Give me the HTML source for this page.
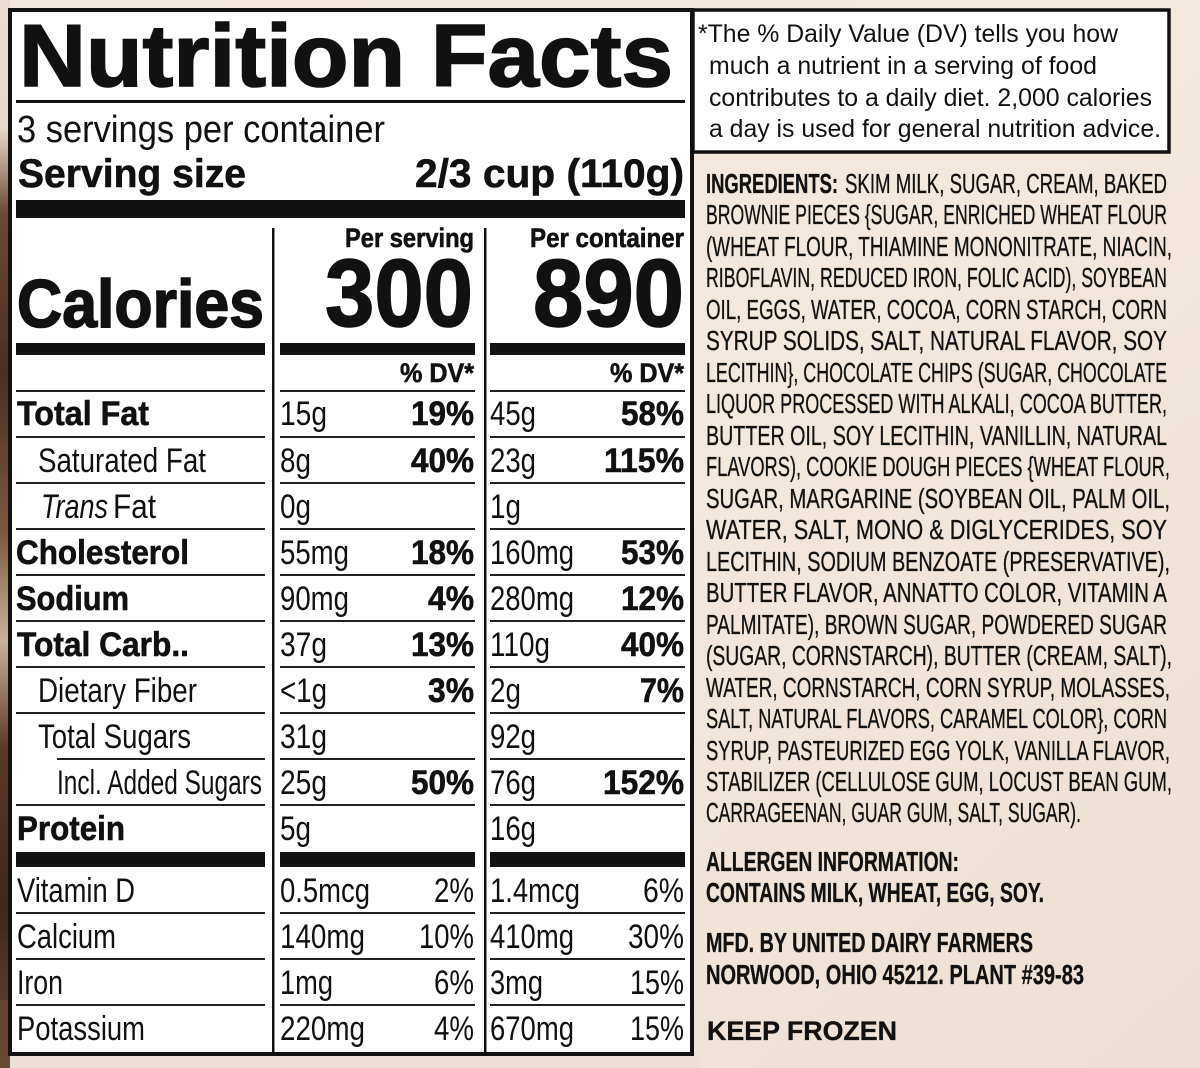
<!DOCTYPE html>
<html><head><meta charset="utf-8"><style>
html,body{margin:0;padding:0;background:#efe3d8;}
svg{display:block}
text{font-family:"Liberation Sans",Arial,sans-serif;fill:#111}
.b{font-weight:bold}
.h{stroke:#111;stroke-width:1.6}
.m{stroke:#111;stroke-width:0.6}
</style></head><body>
<svg width="1200" height="1068" viewBox="0 0 1200 1068" xmlns="http://www.w3.org/2000/svg">
<defs>
<linearGradient id="bg" x1="0" y1="0" x2="1" y2="1">
<stop offset="0" stop-color="#f1e6dc"/><stop offset="0.5" stop-color="#f3e8de"/><stop offset="1" stop-color="#ecdfd3"/>
</linearGradient>
<linearGradient id="br" x1="0" y1="0" x2="0" y2="1">
<stop offset="0" stop-color="#e9dccf"/><stop offset="0.12" stop-color="#e6d8ca"/><stop offset="0.2" stop-color="#6b4a35"/><stop offset="0.35" stop-color="#4a3022"/><stop offset="0.5" stop-color="#7a5a42"/><stop offset="0.6" stop-color="#c9b39a"/><stop offset="0.7" stop-color="#5a3a28"/><stop offset="0.85" stop-color="#3e281c"/><stop offset="1" stop-color="#6a4a36"/>
</linearGradient>
</defs>
<rect width="1200" height="1068" fill="url(#bg)"/>
<rect x="0" y="0" width="10" height="1068" fill="url(#br)"/>
<rect x="0" y="1000" width="40" height="68" fill="#6a4a36" opacity="0.6"/>
<rect x="10" y="1056" width="690" height="12" fill="#ecdfd3"/>

<rect x="10" y="10" width="682" height="1044" fill="#fff" stroke="#111" stroke-width="4"/>

<text class="b h" x="19" y="86" font-size="88" stroke-width="2.2" textLength="654" lengthAdjust="spacingAndGlyphs">Nutrition Facts</text>
<rect x="16" y="100" width="669" height="3" fill="#111"/>
<text x="17" y="142" font-size="38" textLength="368" lengthAdjust="spacingAndGlyphs">3 servings per container</text>
<text class="b m" x="18" y="187" font-size="40" textLength="228" lengthAdjust="spacingAndGlyphs">Serving size</text>
<text class="b m" x="415" y="187" font-size="40" textLength="269" lengthAdjust="spacingAndGlyphs">2/3 cup (110g)</text>
<rect x="16" y="200" width="669" height="18" fill="#111"/>

<rect x="272" y="228" width="2.5" height="826" fill="#111"/>
<rect x="484" y="228" width="2.5" height="826" fill="#111"/>

<text class="b m" x="474" y="247" font-size="27" text-anchor="end" textLength="129" lengthAdjust="spacingAndGlyphs">Per serving</text>
<text class="b m" x="684" y="247" font-size="27" text-anchor="end" textLength="154" lengthAdjust="spacingAndGlyphs">Per container</text>
<text class="b h" x="17" y="327" font-size="68" textLength="247" lengthAdjust="spacingAndGlyphs">Calories</text>
<text class="b h" x="473" y="326" font-size="96" text-anchor="end" textLength="148" lengthAdjust="spacingAndGlyphs">300</text>
<text class="b h" x="684" y="326" font-size="96" text-anchor="end" textLength="151" lengthAdjust="spacingAndGlyphs">890</text>

<rect x="16" y="343" width="249" height="12" fill="#111"/>
<rect x="280" y="343" width="195" height="12" fill="#111"/>
<rect x="490" y="343" width="195" height="12" fill="#111"/>
<text class="b m" x="474" y="382" font-size="27" text-anchor="end" textLength="74" lengthAdjust="spacingAndGlyphs">% DV*</text>
<text class="b m" x="684" y="382" font-size="27" text-anchor="end" textLength="74" lengthAdjust="spacingAndGlyphs">% DV*</text>

<g fill="#222">
<rect x="16" y="390" width="249" height="2"/><rect x="280" y="390" width="195" height="2"/><rect x="490" y="390" width="195" height="2"/>
<rect x="16" y="436" width="249" height="2"/><rect x="280" y="436" width="195" height="2"/><rect x="490" y="436" width="195" height="2"/>
<rect x="16" y="482" width="249" height="2"/><rect x="280" y="482" width="195" height="2"/><rect x="490" y="482" width="195" height="2"/>
<rect x="16" y="528" width="249" height="2"/><rect x="280" y="528" width="195" height="2"/><rect x="490" y="528" width="195" height="2"/>
<rect x="16" y="574" width="249" height="2"/><rect x="280" y="574" width="195" height="2"/><rect x="490" y="574" width="195" height="2"/>
<rect x="16" y="620" width="249" height="2"/><rect x="280" y="620" width="195" height="2"/><rect x="490" y="620" width="195" height="2"/>
<rect x="16" y="666" width="249" height="2"/><rect x="280" y="666" width="195" height="2"/><rect x="490" y="666" width="195" height="2"/>
<rect x="16" y="712" width="249" height="2"/><rect x="280" y="712" width="195" height="2"/><rect x="490" y="712" width="195" height="2"/>
<rect x="57" y="758" width="208" height="2"/><rect x="280" y="758" width="195" height="2"/><rect x="490" y="758" width="195" height="2"/>
<rect x="16" y="804" width="249" height="2"/><rect x="280" y="804" width="195" height="2"/><rect x="490" y="804" width="195" height="2"/>
<rect x="16" y="912" width="249" height="2"/><rect x="280" y="912" width="195" height="2"/><rect x="490" y="912" width="195" height="2"/>
<rect x="16" y="958" width="249" height="2"/><rect x="280" y="958" width="195" height="2"/><rect x="490" y="958" width="195" height="2"/>
<rect x="16" y="1004" width="249" height="2"/><rect x="280" y="1004" width="195" height="2"/><rect x="490" y="1004" width="195" height="2"/>
</g>
<rect x="16" y="852" width="249" height="15" fill="#111"/>
<rect x="280" y="852" width="195" height="15" fill="#111"/>
<rect x="490" y="852" width="195" height="15" fill="#111"/>

<g font-size="34">
<text class="b m" x="17" y="425" textLength="132" lengthAdjust="spacingAndGlyphs">Total Fat</text>
<text x="38" y="472" textLength="168" lengthAdjust="spacingAndGlyphs">Saturated Fat</text>
<text x="41" y="518" font-style="italic" textLength="67" lengthAdjust="spacingAndGlyphs">Trans</text>
<text x="113" y="518" textLength="43" lengthAdjust="spacingAndGlyphs">Fat</text>
<text class="b m" x="16" y="564" textLength="173" lengthAdjust="spacingAndGlyphs">Cholesterol</text>
<text class="b m" x="16" y="610" textLength="113" lengthAdjust="spacingAndGlyphs">Sodium</text>
<text class="b m" x="17" y="656" textLength="172" lengthAdjust="spacingAndGlyphs">Total Carb..</text>
<text x="38" y="702" textLength="159" lengthAdjust="spacingAndGlyphs">Dietary Fiber</text>
<text x="38" y="748" textLength="153" lengthAdjust="spacingAndGlyphs">Total Sugars</text>
<text x="57" y="794" textLength="205" lengthAdjust="spacingAndGlyphs">Incl. Added Sugars</text>
<text class="b m" x="17" y="840" textLength="108" lengthAdjust="spacingAndGlyphs">Protein</text>
<text x="17" y="902" textLength="118" lengthAdjust="spacingAndGlyphs">Vitamin D</text>
<text x="17" y="948" textLength="99" lengthAdjust="spacingAndGlyphs">Calcium</text>
<text x="17" y="994" textLength="46" lengthAdjust="spacingAndGlyphs">Iron</text>
<text x="17" y="1040" textLength="128" lengthAdjust="spacingAndGlyphs">Potassium</text>

<text x="280" y="425" textLength="47" lengthAdjust="spacingAndGlyphs">15g</text>
<text x="280" y="472" textLength="31" lengthAdjust="spacingAndGlyphs">8g</text>
<text x="280" y="518" textLength="31" lengthAdjust="spacingAndGlyphs">0g</text>
<text x="280" y="564" textLength="69" lengthAdjust="spacingAndGlyphs">55mg</text>
<text x="280" y="610" textLength="69" lengthAdjust="spacingAndGlyphs">90mg</text>
<text x="280" y="656" textLength="47" lengthAdjust="spacingAndGlyphs">37g</text>
<text x="280" y="702" textLength="47" lengthAdjust="spacingAndGlyphs">&lt;1g</text>
<text x="280" y="748" textLength="47" lengthAdjust="spacingAndGlyphs">31g</text>
<text x="280" y="794" textLength="47" lengthAdjust="spacingAndGlyphs">25g</text>
<text x="280" y="840" textLength="31" lengthAdjust="spacingAndGlyphs">5g</text>
<text x="280" y="902" textLength="90" lengthAdjust="spacingAndGlyphs">0.5mcg</text>
<text x="280" y="948" textLength="85" lengthAdjust="spacingAndGlyphs">140mg</text>
<text x="280" y="994" textLength="53" lengthAdjust="spacingAndGlyphs">1mg</text>
<text x="280" y="1040" textLength="85" lengthAdjust="spacingAndGlyphs">220mg</text>

<g text-anchor="end">
<text class="b m" x="474" y="425" textLength="63" lengthAdjust="spacingAndGlyphs">19%</text>
<text class="b m" x="474" y="472" textLength="63" lengthAdjust="spacingAndGlyphs">40%</text>
<text class="b m" x="474" y="564" textLength="63" lengthAdjust="spacingAndGlyphs">18%</text>
<text class="b m" x="474" y="610" textLength="46" lengthAdjust="spacingAndGlyphs">4%</text>
<text class="b m" x="474" y="656" textLength="63" lengthAdjust="spacingAndGlyphs">13%</text>
<text class="b m" x="474" y="702" textLength="46" lengthAdjust="spacingAndGlyphs">3%</text>
<text class="b m" x="474" y="794" textLength="63" lengthAdjust="spacingAndGlyphs">50%</text>
<text x="474" y="902" textLength="40" lengthAdjust="spacingAndGlyphs">2%</text>
<text x="474" y="948" textLength="55" lengthAdjust="spacingAndGlyphs">10%</text>
<text x="474" y="994" textLength="40" lengthAdjust="spacingAndGlyphs">6%</text>
<text x="474" y="1040" textLength="40" lengthAdjust="spacingAndGlyphs">4%</text>
</g>

<text x="490" y="425" textLength="46" lengthAdjust="spacingAndGlyphs">45g</text>
<text x="490" y="472" textLength="46" lengthAdjust="spacingAndGlyphs">23g</text>
<text x="490" y="518" textLength="31" lengthAdjust="spacingAndGlyphs">1g</text>
<text x="490" y="564" textLength="84" lengthAdjust="spacingAndGlyphs">160mg</text>
<text x="490" y="610" textLength="84" lengthAdjust="spacingAndGlyphs">280mg</text>
<text x="490" y="656" textLength="60" lengthAdjust="spacingAndGlyphs">110g</text>
<text x="490" y="702" textLength="31" lengthAdjust="spacingAndGlyphs">2g</text>
<text x="490" y="748" textLength="46" lengthAdjust="spacingAndGlyphs">92g</text>
<text x="490" y="794" textLength="46" lengthAdjust="spacingAndGlyphs">76g</text>
<text x="490" y="840" textLength="46" lengthAdjust="spacingAndGlyphs">16g</text>
<text x="490" y="902" textLength="90" lengthAdjust="spacingAndGlyphs">1.4mcg</text>
<text x="490" y="948" textLength="84" lengthAdjust="spacingAndGlyphs">410mg</text>
<text x="490" y="994" textLength="53" lengthAdjust="spacingAndGlyphs">3mg</text>
<text x="490" y="1040" textLength="84" lengthAdjust="spacingAndGlyphs">670mg</text>

<g text-anchor="end">
<text class="b m" x="684" y="425" textLength="63" lengthAdjust="spacingAndGlyphs">58%</text>
<text class="b m" x="684" y="472" textLength="80" lengthAdjust="spacingAndGlyphs">115%</text>
<text class="b m" x="684" y="564" textLength="63" lengthAdjust="spacingAndGlyphs">53%</text>
<text class="b m" x="684" y="610" textLength="63" lengthAdjust="spacingAndGlyphs">12%</text>
<text class="b m" x="684" y="656" textLength="63" lengthAdjust="spacingAndGlyphs">40%</text>
<text class="b m" x="684" y="702" textLength="44" lengthAdjust="spacingAndGlyphs">7%</text>
<text class="b m" x="684" y="794" textLength="81" lengthAdjust="spacingAndGlyphs">152%</text>
<text x="684" y="902" textLength="41" lengthAdjust="spacingAndGlyphs">6%</text>
<text x="684" y="948" textLength="56" lengthAdjust="spacingAndGlyphs">30%</text>
<text x="684" y="994" textLength="54" lengthAdjust="spacingAndGlyphs">15%</text>
<text x="684" y="1040" textLength="54" lengthAdjust="spacingAndGlyphs">15%</text>
</g>
</g>

<rect x="693" y="10" width="476" height="142" fill="#fff" stroke="#111" stroke-width="3.5"/>
<g font-size="25" fill="#222">
<text x="698" y="42" textLength="420" lengthAdjust="spacingAndGlyphs">*The % Daily Value (DV) tells you how</text>
<text x="709" y="74" textLength="388" lengthAdjust="spacingAndGlyphs">much a nutrient in a serving of food</text>
<text x="709" y="106" textLength="443" lengthAdjust="spacingAndGlyphs">contributes to a daily diet. 2,000 calories</text>
<text x="709" y="137" textLength="452" lengthAdjust="spacingAndGlyphs">a day is used for general nutrition advice.</text>
</g>

<g font-size="28" fill="#1a1a1a" stroke="#1a1a1a" stroke-width="0.35">
<text class="b" x="706" y="193" textLength="132" lengthAdjust="spacingAndGlyphs">INGREDIENTS:</text>
<text x="845" y="193" textLength="322" lengthAdjust="spacingAndGlyphs">SKIM MILK, SUGAR, CREAM, BAKED</text>
<text x="706" y="224" textLength="461" lengthAdjust="spacingAndGlyphs">BROWNIE PIECES {SUGAR, ENRICHED WHEAT FLOUR</text>
<text x="706" y="256" textLength="466" lengthAdjust="spacingAndGlyphs">(WHEAT FLOUR, THIAMINE MONONITRATE, NIACIN,</text>
<text x="706" y="287" textLength="461" lengthAdjust="spacingAndGlyphs">RIBOFLAVIN, REDUCED IRON, FOLIC ACID), SOYBEAN</text>
<text x="706" y="319" textLength="461" lengthAdjust="spacingAndGlyphs">OIL, EGGS, WATER, COCOA, CORN STARCH, CORN</text>
<text x="706" y="350" textLength="461" lengthAdjust="spacingAndGlyphs">SYRUP SOLIDS, SALT, NATURAL FLAVOR, SOY</text>
<text x="706" y="382" textLength="461" lengthAdjust="spacingAndGlyphs">LECITHIN}, CHOCOLATE CHIPS (SUGAR, CHOCOLATE</text>
<text x="706" y="413" textLength="461" lengthAdjust="spacingAndGlyphs">LIQUOR PROCESSED WITH ALKALI, COCOA BUTTER,</text>
<text x="706" y="445" textLength="461" lengthAdjust="spacingAndGlyphs">BUTTER OIL, SOY LECITHIN, VANILLIN, NATURAL</text>
<text x="706" y="476" textLength="464" lengthAdjust="spacingAndGlyphs">FLAVORS), COOKIE DOUGH PIECES {WHEAT FLOUR,</text>
<text x="706" y="508" textLength="464" lengthAdjust="spacingAndGlyphs">SUGAR, MARGARINE (SOYBEAN OIL, PALM OIL,</text>
<text x="706" y="539" textLength="461" lengthAdjust="spacingAndGlyphs">WATER, SALT, MONO &amp; DIGLYCERIDES, SOY</text>
<text x="706" y="571" textLength="464" lengthAdjust="spacingAndGlyphs">LECITHIN,  SODIUM BENZOATE (PRESERVATIVE),</text>
<text x="706" y="602" textLength="461" lengthAdjust="spacingAndGlyphs">BUTTER FLAVOR, ANNATTO COLOR, VITAMIN A</text>
<text x="706" y="634" textLength="461" lengthAdjust="spacingAndGlyphs">PALMITATE), BROWN SUGAR, POWDERED SUGAR</text>
<text x="706" y="665" textLength="466" lengthAdjust="spacingAndGlyphs">(SUGAR, CORNSTARCH), BUTTER (CREAM, SALT),</text>
<text x="706" y="697" textLength="464" lengthAdjust="spacingAndGlyphs">WATER, CORNSTARCH, CORN SYRUP, MOLASSES,</text>
<text x="706" y="728" textLength="461" lengthAdjust="spacingAndGlyphs">SALT, NATURAL FLAVORS, CARAMEL COLOR}, CORN</text>
<text x="706" y="760" textLength="464" lengthAdjust="spacingAndGlyphs">SYRUP, PASTEURIZED EGG YOLK, VANILLA FLAVOR,</text>
<text x="706" y="791" textLength="466" lengthAdjust="spacingAndGlyphs">STABILIZER (CELLULOSE GUM, LOCUST BEAN GUM,</text>
<text x="706" y="822" textLength="375" lengthAdjust="spacingAndGlyphs">CARRAGEENAN, GUAR GUM, SALT, SUGAR).</text>
<text class="b" x="706" y="871" textLength="253" lengthAdjust="spacingAndGlyphs">ALLERGEN INFORMATION:</text>
<text class="b" x="706" y="902" textLength="338" lengthAdjust="spacingAndGlyphs">CONTAINS MILK, WHEAT, EGG, SOY.</text>
<text class="b" x="706" y="952" textLength="327" lengthAdjust="spacingAndGlyphs">MFD. BY UNITED DAIRY FARMERS</text>
<text class="b" x="706" y="984" textLength="378" lengthAdjust="spacingAndGlyphs">NORWOOD, OHIO 45212. PLANT #39-83</text>
<text class="b" x="707" y="1040" font-size="27" textLength="190" lengthAdjust="spacingAndGlyphs">KEEP FROZEN</text>
</g>
</svg>
</body></html>
